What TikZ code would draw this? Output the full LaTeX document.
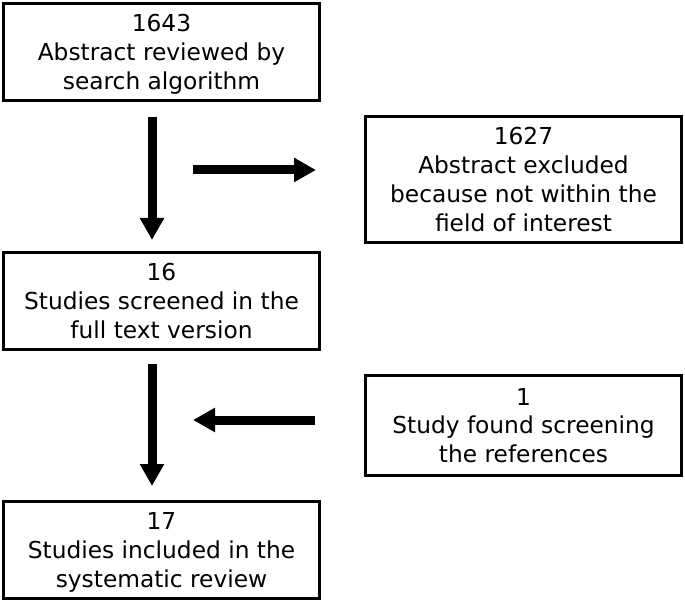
\documentclass[tikz,border=0pt]{standalone}
\usepackage{fontspec}
\setmainfont{DejaVu Sans}
\usetikzlibrary{positioning, arrows.meta, calc}

\begin{document}
\begin{tikzpicture}[
  x=0.5pt, y=-0.5pt,
  >={Triangle[length=11pt, width=11.5pt]},
  every node/.style={font=\fontsize{11.65pt}{14.4pt}\selectfont},
  box/.style    = {draw=black, line width=1.5pt, align=center, inner sep=2pt, text depth=0pt, minimum width=158pt, minimum height=48.5pt},
  sidebox/.style = {box, minimum height=50pt},
  arr/.style    = {->, line width=4.5pt, black},
]
  \useasboundingbox (0,0) rectangle (685,604);
  % Main column: abstracts at top -> included studies at bottom.
  \node[box]                            (abstr)  at (161.5,52)   {1643\\Abstract reviewed by\\search algorithm};
  \node[box, below=74.5pt of abstr]     (screen)                 {16\\Studies screened in the\\full text version};
  \node[box, below=74.5pt of screen]    (incl)                   {17\\Studies included in the\\systematic review};
  % Side boxes on the right.
  \node[sidebox, minimum height=63pt]   (excl)   at (523.5,179.5) {1627\\Abstract excluded\\because not within the\\field of interest};
  \node[sidebox]                        (found)  at (523.5,425.5) {1\\Study found screening\\the references};
  \draw[arr, shorten <=7.5pt, shorten >=5.5pt] ([xshift=-4.75pt]abstr.south) -- ([xshift=-4.75pt]screen.north);
  \draw[arr, shorten <=6.5pt, shorten >=7pt]   ([xshift=-4.75pt]screen.south) -- ([xshift=-4.75pt]incl.north);
  % Side arrows, free ends between the columns.
  \coordinate (h1) at (193,170);
  \coordinate (h2) at (193,420);
  \draw[arr, shorten >=24pt]   (h1) -- (h1 -| excl.west);
  \draw[arr, shorten <=24.5pt] (h2 -| found.west) -- (h2);
\end{tikzpicture}
\end{document}
